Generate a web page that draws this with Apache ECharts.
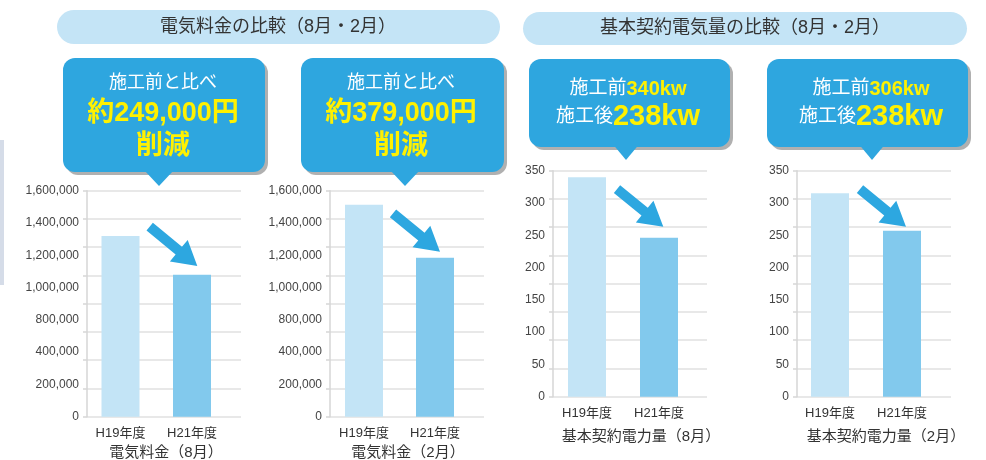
<!DOCTYPE html>
<html><head><meta charset="utf-8">
<script src="https://cdn.jsdelivr.net/npm/echarts@6/dist/echarts.min.js"></script>
<style>html,body{margin:0;padding:0;background:#fff}#c{width:986px;height:460px}</style>
</head><body><div id="c"></div>
<script>
// ---- data ----
const categories = ['H19年度', 'H21年度'];
const fee8 = [1280000, 1005000];
const fee2 = [1500000, 1125000];
const kw8 = [340, 246];
const kw2 = [315, 257];
const feeTicks = ['0', '200,000', '400,000', '800,000', '1,000,000', '1,200,000', '1,400,000', '1,600,000'];
const kwTicks = ['0', '50', '100', '150', '200', '250', '300', '350'];
const chartTitles = ['電気料金（8月）', '電気料金（2月）', '基本契約電力量（8月）', '基本契約電力量（2月）'];
const headers = ['電気料金の比較（8月・2月）', '基本契約電気量の比較（8月・2月）'];

// ---- styling ----
const FONT = "'Liberation Sans','Noto Sans CJK JP',sans-serif";
const barColors = ['#C3E4F6', '#82C9ED'];
const BLUE = '#2EA6DF';
const YEL = '#FFF100';

const charts = [
  {data: fee8, max: 1600000, ticks: feeTicks, gl: 87, top: 190.7, bl: 84.75, bw: 143, title: [166, 453]},
  {data: fee2, max: 1600000, ticks: feeTicks, gl: 330, top: 190.7, bl: 328.5, bw: 142, title: [408, 453]},
  {data: kw8, max: 350, ticks: kwTicks, gl: 553, top: 170.7, bl: 551, bw: 144, title: [641, 437]},
  {data: kw2, max: 350, ticks: kwTicks, gl: 797, top: 170.7, bl: 794, bw: 144, title: [886, 437]}
];
const H = 226;

const grid = [], xAxis = [], yAxis = [], series = [];
charts.forEach((c, i) => {
  // gridline grid
  const g1 = grid.length;
  grid.push({left: c.gl, top: c.top, width: 154, height: H, outerBoundsMode: 'none'});
  xAxis.push({type: 'value', gridIndex: g1, min: 0, max: 1, show: false});
  yAxis.push({type: 'value', gridIndex: g1, position: 'left', min: 0, max: 8, interval: 1,
    axisLabel: {show: false},
    axisLine: {show: true, lineStyle: {color: '#d6d6d6', width: 1.5}},
    axisTick: {show: true, length: 4, lineStyle: {color: '#d6d6d6', width: 1.5}},
    splitLine: {show: true, lineStyle: {color: '#e0e0e0', width: 1.5}}});
  const ticks = c.ticks;
  yAxis.push({type: 'value', gridIndex: g1, position: 'left', min: 0, max: ticks.length - 1, interval: 1,
    axisLine: {show: false}, axisTick: {show: false}, splitLine: {show: false},
    axisLabel: {show: true, margin: 8, fontSize: 12, color: '#444', fontFamily: FONT,
      formatter: v => ticks[Math.round(v)] || ''}});
  // bar grid
  const g2 = grid.length;
  grid.push({left: c.bl, top: c.top, width: c.bw, height: H, outerBoundsMode: 'none'});
  xAxis.push({type: 'category', gridIndex: g2, data: categories,
    axisLine: {show: false}, axisTick: {show: false},
    axisLabel: {margin: 10, fontSize: 13, color: '#333', fontFamily: FONT}});
  const yb = yAxis.length;
  yAxis.push({type: 'value', gridIndex: g2, min: 0, max: c.max, show: false, splitLine: {show: false}});
  series.push({type: 'bar', xAxisIndex: g2, yAxisIndex: yb, barWidth: 38, silent: true,
    data: c.data.map((v, k) => ({value: v, itemStyle: {color: barColors[k]}}))});
});

// ---- decorations ----
const graphic = [];
function pill(x, y, w, h, text, cx) {
  graphic.push({type: 'rect', shape: {x, y, width: w, height: h, r: h / 2}, style: {fill: '#C4E4F6'}, z: 1});
  graphic.push({type: 'text', z: 2, style: {text, x: cx, y: y + h / 2, font: '18px ' + FONT, fill: '#333',
    align: 'center', verticalAlign: 'middle', textAlign: 'center', textVerticalAlign: 'middle'}});
}
pill(57, 10, 443, 34, headers[0], 278);
pill(523, 12, 444, 33, headers[1], 745);

function callout(x, y, w, h, px, tipY, hw) {
  graphic.push({type: 'rect', z: 3, shape: {x: x + 3, y: y + 3, width: w, height: h, r: 12}, style: {fill: '#b0b0b0'}});
  graphic.push({type: 'polygon', z: 4, shape: {points: [[px - hw, y + h - 2], [px + hw, y + h - 2], [px, tipY]]}, style: {fill: BLUE}});
  graphic.push({type: 'rect', z: 4, shape: {x, y, width: w, height: h, r: 12}, style: {fill: BLUE}});
}
const rich = {
  w: {fill: '#fff', color: '#fff', fontSize: 18, fontFamily: FONT},
  w2: {fill: '#fff', color: '#fff', fontSize: 19, fontFamily: FONT},
  y: {fill: YEL, color: YEL, fontSize: 27, fontWeight: 'bold', fontFamily: FONT},
  ys: {fill: YEL, color: YEL, fontSize: 20, fontWeight: 'bold', fontFamily: FONT},
  yl: {fill: YEL, color: YEL, fontSize: 29, fontWeight: 'bold', fontFamily: FONT}
};
function line(text, x, y) {
  graphic.push({type: 'text', z: 5, style: {text, rich, x, y, align: 'center', verticalAlign: 'middle',
    textAlign: 'center', textVerticalAlign: 'middle'}});
}
callout(63, 58, 202, 114, 159, 186, 15);
callout(301, 58, 203, 114, 405, 186, 15);
callout(529, 59, 201, 88, 626, 160, 12.5);
callout(767, 59, 201, 88, 872, 160, 12.5);
line('{w|施工前と比べ}', 163, 83);
line('{y|約249,000円}', 163, 114);
line('{y|削減}', 163, 147);
line('{w|施工前と比べ}', 401, 83);
line('{y|約379,000円}', 401, 114);
line('{y|削減}', 401, 147);
line('{w2|施工前}{ys|340kw}', 628, 89);
line('{w2|施工後}{yl|238kw}', 628, 117);
line('{w2|施工前}{ys|306kw}', 871, 89);
line('{w2|施工後}{yl|238kw}', 871, 117);

function arrow(x1, y1, x2, y2) {
  const dx = x2 - x1, dy = y2 - y1, L = Math.hypot(dx, dy), ux = dx / L, uy = dy / L, px = -uy, py = ux;
  const hl = 24, sw = 5, hw = 14, bx = x2 - ux * hl, by = y2 - uy * hl;
  graphic.push({type: 'polygon', z: 20, shape: {points: [
    [x1 + px * sw, y1 + py * sw], [bx + px * sw, by + py * sw], [bx + px * hw, by + py * hw], [x2, y2],
    [bx - px * hw, by - py * hw], [bx - px * sw, by - py * sw], [x1 - px * sw, y1 - py * sw]]},
    style: {fill: '#2DA7E0'}});
}
arrow(149.7, 226.7, 197.3, 266);
arrow(393, 213.3, 440, 251.7);
arrow(617, 189.2, 663.3, 226.7);
arrow(860, 189.2, 906, 226.7);

charts.forEach((c, i) => {
  graphic.push({type: 'text', z: 5, style: {text: chartTitles[i], x: c.title[0], y: c.title[1], font: '15px ' + FONT,
    fill: '#333', align: 'center', verticalAlign: 'middle', textAlign: 'center', textVerticalAlign: 'middle'}});
});
// faint page edge on the far left
graphic.push({type: 'rect', z: 0, shape: {x: 0, y: 140, width: 4, height: 145}, style: {fill: '#d5dce8'}});

const chart = echarts.init(document.getElementById('c'), null, {renderer: 'canvas'});
chart.setOption({animation: false, backgroundColor: '#fff', grid, xAxis, yAxis, series, graphic});
</script></body></html>
